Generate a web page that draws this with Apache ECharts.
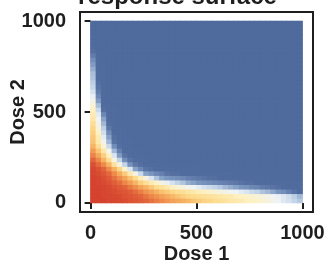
<!DOCTYPE html>
<html>
<head>
<meta charset="utf-8">
<script src="https://cdn.jsdelivr.net/npm/echarts@6/dist/echarts.min.js"></script>
<style>
  html, body { margin: 0; padding: 0; background: #fff; }
  #chart { width: 326px; height: 264px; }
</style>
</head>
<body>
<div id="chart"></div>
<script>
// cell centres of the surface (dose units), 25 apart
const dose1 = [12.5, 37.5, 62.5, 87.5, 112.5, 137.5, 162.5, 187.5, 212.5, 237.5,
               262.5, 287.5, 312.5, 337.5, 362.5, 387.5, 412.5, 437.5, 462.5, 487.5,
               512.5, 537.5, 562.5, 587.5, 612.5, 637.5, 662.5, 687.5, 712.5, 737.5,
               762.5, 787.5, 812.5, 837.5, 862.5, 887.5, 912.5, 937.5, 962.5, 987.5];
const dose2 = dose1.slice();
const tickValues = [0, 500, 1000];

// response (%): one row per dose2 (bottom row first), one column per dose1
const response = [
  [100,100,100,99,99,98,97,95,93,91, 89,86,83,80,77,75,73,71,69,66, 64,62,61,59,58,57,55,54,53,51, 50,49,47,45,42,40,37,35,32,29],
  [100,100,99,99,98,97,95,93,91,89, 85,81,78,75,72,69,66,63,61,60, 59,58,57,56,55,54,53,51,50,49, 48,46,45,43,41,39,37,34,30,26],
  [100,100,99,98,97,95,93,91,87,83, 78,75,71,67,64,61,59,58,56,54, 52,51,49,47,45,43,41,40,38,36, 33,31,28,26,23,20,18,15,12,10],
  [100,100,99,98,95,92,89,84,79,74, 70,65,60,57,54,50,47,45,42,40, 38,35,33,31,29,26,24,22,20,19, 17,16,14,13,12,11,10,9,8,7],
  [100,99,98,95,91,87,81,76,70,63, 58,53,49,44,39,35,31,28,24,22, 20,19,18,17,16,15,14,13,12,11, 11,10,9,9,8,7,7,6,5,5],
  [100,99,96,92,86,80,74,67,60,52, 45,36,28,22,20,19,18,17,15,14, 13,12,11,11,10,9,9,8,7,7, 6,6,5,5,4,4,4,4,3,3],
  [99,97,93,88,80,72,64,54,44,33, 22,20,17,15,12,11,11,10,9,9, 8,7,7,6,5,5,5,4,4,4, 4,4,3,3,3,3,3,3,3,3],
  [99,95,89,80,71,61,48,36,22,17, 12,11,10,9,9,8,7,6,5,5, 5,4,4,4,4,4,3,3,3,3, 3,3,3,3,3,2,2,2,2,2],
  [96,88,80,70,57,44,31,19,13,11, 9,8,6,5,5,4,4,4,4,3, 3,3,3,3,3,3,2,2,2,2, 2,2,2,2,2,2,2,2,2,2],
  [89,81,70,59,45,31,18,12,9,7, 5,4,4,4,4,3,3,3,3,3, 3,3,2,2,2,2,2,2,2,2, 2,2,2,2,2,2,2,2,2,2],
  [82,73,63,50,36,21,12,9,7,5, 4,4,4,3,3,3,3,3,3,2, 2,2,2,2,2,2,2,2,2,2, 2,2,2,2,2,2,2,2,2,1],
  [76,66,55,42,26,15,10,7,5,4, 4,4,3,3,3,3,3,2,2,2, 2,2,2,2,2,2,2,2,2,2, 2,2,2,2,2,2,1,1,1,1],
  [70,59,47,33,18,11,8,5,4,4, 3,3,3,3,3,2,2,2,2,2, 2,2,2,2,2,2,2,2,2,2, 2,2,1,1,1,1,1,1,1,1],
  [66,54,42,26,12,9,6,5,4,3, 3,3,3,3,2,2,2,2,2,2, 2,2,2,2,2,2,2,2,2,1, 1,1,1,1,1,1,1,1,1,1],
  [65,53,38,22,11,7,5,4,3,3, 3,3,3,2,2,2,2,2,2,2, 2,2,2,2,2,2,2,1,1,1, 1,1,1,1,1,1,1,1,1,1],
  [63,50,34,18,9,5,4,3,3,3, 3,3,2,2,2,2,2,2,2,2, 2,2,2,2,2,1,1,1,1,1, 1,1,1,1,1,1,1,1,1,1],
  [61,46,30,13,8,5,4,3,3,3, 3,2,2,2,2,2,2,2,2,2, 2,2,2,1,1,1,1,1,1,1, 1,1,1,1,1,1,1,1,1,1],
  [58,43,26,11,6,4,3,3,3,3, 2,2,2,2,2,2,2,2,2,2, 2,1,1,1,1,1,1,1,1,1, 1,1,1,1,1,1,1,1,1,1],
  [55,41,22,10,5,4,3,3,3,2, 2,2,2,2,2,2,2,2,2,1, 1,1,1,1,1,1,1,1,1,1, 1,1,1,1,1,1,1,1,1,1],
  [53,38,17,8,5,4,3,3,2,2, 2,2,2,2,2,2,2,1,1,1, 1,1,1,1,1,1,1,1,1,1, 1,1,1,1,1,1,1,1,1,1],
  [50,33,11,6,5,4,3,2,2,2, 2,2,2,2,2,1,1,1,1,1, 1,1,1,1,1,1,1,1,1,1, 1,1,1,1,1,1,1,1,1,1],
  [47,27,10,5,4,3,3,2,2,2, 2,2,2,2,1,1,1,1,1,1, 1,1,1,1,1,1,1,1,1,1, 1,1,1,1,1,1,1,1,1,1],
  [43,21,9,5,4,3,2,2,2,2, 2,2,2,1,1,1,1,1,1,1, 1,1,1,1,1,1,1,1,1,1, 1,1,1,1,1,1,1,1,1,1],
  [39,17,8,5,4,3,2,2,2,2, 2,2,1,1,1,1,1,1,1,1, 1,1,1,1,1,1,1,1,1,1, 1,1,1,1,1,1,1,1,1,1],
  [35,14,7,4,3,3,2,2,2,2, 2,1,1,1,1,1,1,1,1,1, 1,1,1,1,1,1,1,1,1,1, 1,1,1,1,1,1,1,1,1,1],
  [32,12,6,4,3,2,2,2,2,2, 1,1,1,1,1,1,1,1,1,1, 1,1,1,1,1,1,1,1,1,1, 1,1,1,1,1,1,1,1,1,1],
  [30,11,5,4,3,2,2,2,2,1, 1,1,1,1,1,1,1,1,1,1, 1,1,1,1,1,1,1,1,1,1, 1,1,1,1,1,1,1,1,1,1],
  [28,10,5,4,3,2,2,2,1,1, 1,1,1,1,1,1,1,1,1,1, 1,1,1,1,1,1,1,1,1,1, 1,1,1,1,1,1,1,1,1,1],
  [27,10,5,3,2,2,2,1,1,1, 1,1,1,1,1,1,1,1,1,1, 1,1,1,1,1,1,1,1,1,1, 1,1,1,1,1,1,1,1,1,1],
  [24,9,5,3,2,2,1,1,1,1, 1,1,1,1,1,1,1,1,1,1, 1,1,1,1,1,1,1,1,1,1, 1,1,1,1,1,1,1,1,1,1],
  [21,8,4,3,2,2,1,1,1,1, 1,1,1,1,1,1,1,1,1,1, 1,1,1,1,1,1,1,1,1,1, 1,1,1,1,1,1,1,1,1,1],
  [18,6,4,3,2,1,1,1,1,1, 1,1,1,1,1,1,1,1,1,1, 1,1,1,1,1,1,1,1,1,1, 1,1,1,1,1,1,1,1,1,1],
  [14,5,4,3,2,1,1,1,1,1, 1,1,1,1,1,1,1,1,1,1, 1,1,1,1,1,1,1,1,1,1, 1,1,1,1,1,1,1,1,1,1],
  [11,3,2,2,1,1,1,1,1,1, 1,1,1,1,1,1,1,1,1,1, 1,1,1,1,1,1,1,1,1,1, 1,1,1,1,1,1,1,1,1,0],
  [9,2,2,1,1,1,1,1,1,1, 1,1,1,1,1,1,1,1,1,1, 1,1,1,1,1,1,1,1,1,1, 1,1,1,1,1,1,1,1,0,0],
  [7,2,1,1,1,1,1,1,1,1, 1,1,1,1,1,1,1,1,1,1, 1,1,1,1,1,1,1,1,1,1, 1,1,1,1,1,0,0,0,0,0],
  [5,1,1,1,1,1,1,1,1,1, 1,1,1,1,1,1,1,1,1,1, 1,1,1,1,1,1,1,1,1,1, 1,0,0,0,0,0,0,0,0,0],
  [3,1,1,1,1,1,1,1,1,1, 1,1,1,1,1,1,1,1,1,1, 1,1,1,1,1,0,0,0,0,0, 0,0,0,0,0,0,0,0,0,0],
  [2,0,0,0,0,0,0,0,0,0, 0,0,0,0,0,0,0,0,0,0, 0,0,0,0,0,0,0,0,0,0, 0,0,0,0,0,0,0,0,0,0],
  [2,0,0,0,0,0,0,0,0,0, 0,0,0,0,0,0,0,0,0,0, 0,0,0,0,0,0,0,0,0,0, 0,0,0,0,0,0,0,0,0,0]
];

// colour ramp from 0 to 100 %, evenly spaced
const palette = ['#4f6a9c', '#506b9d', '#7a95bf', '#bccfe5', '#eef3f6', '#fdf1c4',
                 '#fcdb8c', '#f7b464', '#ee8b4b', '#e0603a', '#d5432f'];

let heat = [];
for (let r = 0; r < dose2.length; r++) {
  for (let c = 0; c < dose1.length; c++) {
    heat.push([c, r, response[r][c]]);
  }
}

// panel box, with 5% padding around the 0..1000 data range
const box = { left: 80, top: 12, width: 233, height: 200 };
const lo = -50, hi = 1050;
const inner = {
  left: box.left + box.width * (0 - lo) / (hi - lo),
  top: box.top + box.height * (hi - 1000) / (hi - lo),
  width: box.width * 1000 / (hi - lo),
  height: box.height * 1000 / (hi - lo)
};

const font = 'Liberation Sans';
const ink = '#1e1e1e';

// same cells painted twice so the anti-aliased seams between them close up
function heatLayer() {
  return {
    type: 'heatmap',
    xAxisIndex: 1,
    yAxisIndex: 1,
    data: heat,
    emphasis: { disabled: true }
  };
}

let chart = echarts.init(document.getElementById('chart'), null, { renderer: 'canvas' });
chart.setOption({
  animation: false,
  textStyle: { fontFamily: font },
  graphic: [{
    type: 'text',
    x: 177.5,
    y: -2.5,
    style: {
      text: 'response surface',
      font: 'bold 24px "Liberation Sans"',
      fill: ink,
      align: 'center',
      verticalAlign: 'middle'
    }
  }],
  grid: [
    Object.assign({ show: true, borderColor: ink, borderWidth: 2, backgroundColor: 'transparent',
                    outerBoundsMode: 'none', containLabel: false }, box),
    Object.assign({ show: false, outerBoundsMode: 'none', containLabel: false }, inner)
  ],
  xAxis: [{
    type: 'value',
    gridIndex: 0,
    min: lo,
    max: hi,
    name: 'Dose 1',
    nameLocation: 'middle',
    nameGap: 32,
    nameMoveOverlap: false,
    nameTextStyle: { fontSize: 20, fontWeight: 'bold', color: ink, fontFamily: font },
    axisLine: { show: false },
    splitLine: { show: false },
    axisTick: { show: true, customValues: tickValues, length: 6, lineStyle: { color: ink, width: 2 } },
    axisLabel: { customValues: tickValues, formatter: v => String(v), margin: 11,
                 fontSize: 20, fontWeight: 'bold', color: ink, fontFamily: font }
  }, {
    type: 'category',
    gridIndex: 1,
    data: dose1,
    show: false
  }],
  yAxis: [{
    type: 'value',
    gridIndex: 0,
    min: lo,
    max: hi,
    name: 'Dose 2',
    nameLocation: 'middle',
    nameGap: 52,
    nameRotate: 90,
    nameMoveOverlap: false,
    nameTextStyle: { fontSize: 20, fontWeight: 'bold', color: ink, fontFamily: font },
    axisLine: { show: false },
    splitLine: { show: false },
    axisTick: { show: true, customValues: tickValues, length: 6, lineStyle: { color: ink, width: 2 } },
    axisLabel: { customValues: tickValues, formatter: v => String(v), margin: 14,
                 fontSize: 20, fontWeight: 'bold', color: ink, fontFamily: font }
  }, {
    type: 'category',
    gridIndex: 1,
    data: dose2,
    show: false
  }],
  visualMap: {
    show: false,
    type: 'continuous',
    min: 0,
    max: 100,
    seriesIndex: [0, 1],
    inRange: { color: palette }
  },
  series: [heatLayer(), heatLayer()]
});
</script>
</body>
</html>
